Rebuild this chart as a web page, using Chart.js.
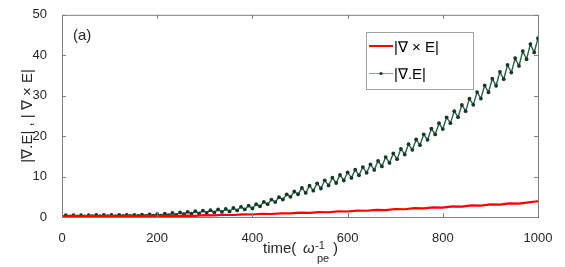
<!DOCTYPE html>
<html>
<head>
<meta charset="utf-8">
<script src="https://cdn.jsdelivr.net/npm/chart.js@4"></script>
<style>
  html, body { margin: 0; padding: 0; background: #fff; }
  #wrap { width: 565px; height: 267px; }
</style>
</head>
<body>
<div id="wrap"><canvas id="c" width="565" height="267"></canvas></div>
<script>
// div E sampled every 8 time units, troughs and peaks alternate
const divTimeStep = 8;
const divValues = [
  0.1, 0.45, 0.15, 0.45, 0.15, 0.45, 0.15, 0.45, 0.2, 0.5,
  0.2, 0.5, 0.2, 0.5, 0.2, 0.5, 0.25, 0.55, 0.25, 0.55,
  0.3, 0.6, 0.3, 0.65, 0.35, 0.7, 0.36, 0.85, 0.45, 1.0,
  0.55, 1.12, 0.7, 1.28, 0.8, 1.42, 0.9, 1.57, 1.03, 1.7,
  1.14, 1.85, 1.25, 2.0, 1.38, 2.22, 1.63, 2.52, 1.87, 2.8,
  2.1, 3.17, 2.64, 3.74, 3.17, 4.3, 3.7, 4.9, 4.33, 5.6,
  4.98, 6.3, 5.63, 7.2, 5.95, 7.75, 6.5, 8.32, 7.05, 9.08,
  7.8, 9.75, 8.41, 10.4, 9.03, 11.05, 9.67, 11.7, 10.3, 12.35,
  10.93, 13.0, 11.65, 13.9, 12.5, 14.83, 13.38, 15.73, 14.3, 16.85,
  15.45, 18.0, 16.6, 19.17, 17.75, 20.45, 19.08, 21.83, 20.41, 23.18,
  21.75, 24.65, 23.2, 26.18, 24.69, 27.7, 26.17, 29.25, 27.73, 30.9,
  29.28, 32.53, 30.85, 34.2, 32.45, 35.9, 34.07, 37.6, 35.71, 39.3,
  37.35, 41.03, 39.01, 42.75, 40.7, 44.2
];

// curl E sampled every 20 time units
const curlTimeStep = 20;
const curlValues = [
  0.0, 0.3, 0.15, 0.3, 0.15, 0.28, 0.15, 0.28, 0.15, 0.28,
  0.18, 0.3, 0.22, 0.36, 0.3, 0.44, 0.4, 0.55, 0.5, 0.66,
  0.62, 0.8, 0.74, 0.92, 0.88, 1.06, 1.02, 1.22, 1.18, 1.4,
  1.36, 1.58, 1.54, 1.78, 1.72, 1.98, 1.92, 2.18, 2.12, 2.4,
  2.34, 2.62, 2.56, 2.86, 2.8, 3.1, 3.04, 3.36, 3.3, 3.62, 3.9
];

const xTicks = [0, 200, 400, 600, 800, 1000];
const yTicks = [0, 10, 20, 30, 40, 50];

const curlLabel = '|\u2207 \u00d7 E|';
const divLabel = '|\u2207.E|';

const toPoints = (vals, step) => vals.map((v, i) => ({ x: i * step, y: v }));

const FONT = '"Liberation Sans", Arial, sans-serif';
const TXT = '#262626';

const decor = {
  id: 'decor',
  afterDatasetsDraw(chart) {
    const { ctx, chartArea: a, scales } = chart;
    ctx.save();
    // box + inward ticks, matlab style
    ctx.strokeStyle = '#7f7f7f';
    ctx.lineWidth = 1;
    ctx.strokeRect(a.left + 0.5, a.top + 0.5, a.right - a.left, a.bottom - a.top);
    ctx.beginPath();
    xTicks.forEach(t => {
      const px = Math.round(scales.x.getPixelForValue(t)) + 0.5;
      ctx.moveTo(px, a.bottom); ctx.lineTo(px, a.bottom - 4);
      ctx.moveTo(px, a.top); ctx.lineTo(px, a.top + 4);
    });
    yTicks.forEach(t => {
      const py = Math.round(scales.y.getPixelForValue(t)) + 0.5;
      ctx.moveTo(a.left, py); ctx.lineTo(a.left + 4, py);
      ctx.moveTo(a.right, py); ctx.lineTo(a.right - 4, py);
    });
    ctx.stroke();

    // panel tag
    ctx.fillStyle = TXT;
    ctx.font = '15px ' + FONT;
    ctx.fillText('(a)', 73, 40);

    // legend
    const lx = 366, ly = 32, lw = 107, lh = 57;
    ctx.fillStyle = '#fff';
    ctx.fillRect(lx, ly, lw, lh);
    ctx.strokeStyle = '#a0a0a0';
    ctx.strokeRect(lx + 0.5, ly + 0.5, lw, lh);
    ctx.strokeStyle = '#ff0000';
    ctx.lineWidth = 2;
    ctx.beginPath(); ctx.moveTo(369, 46); ctx.lineTo(393, 46); ctx.stroke();
    ctx.strokeStyle = '#7fa898';
    ctx.lineWidth = 1;
    ctx.beginPath(); ctx.moveTo(369, 73.5); ctx.lineTo(393, 73.5); ctx.stroke();
    ctx.fillStyle = '#123a26';
    ctx.beginPath(); ctx.arc(381, 73.5, 1.6, 0, Math.PI * 2); ctx.fill();
    ctx.fillStyle = '#000';
    ctx.font = '15px ' + FONT;
    ctx.fillText(chart.data.datasets[0].label, 394, 52);
    ctx.fillText(chart.data.datasets[1].label, 394, 79);

    // x title: time( w_pe^-1 )
    ctx.fillStyle = TXT;
    ctx.font = '15px ' + FONT;
    ctx.fillText('time(', 263, 253);
    ctx.font = 'italic 15px ' + FONT;
    ctx.fillText('\u03c9', 303, 253);
    ctx.font = '11px ' + FONT;
    ctx.fillText('-1', 315, 249);
    ctx.fillText('pe', 317, 262);
    ctx.font = '15px ' + FONT;
    ctx.fillText(')', 333, 253);

    // y title
    ctx.translate(32, (a.top + a.bottom) / 2);
    ctx.rotate(-Math.PI / 2);
    ctx.textAlign = 'center';
    ctx.fillText(divLabel + ' , | \u2207 \u00d7 E|', 0, 0);
    ctx.restore();
  }
};

new Chart(document.getElementById('c'), {
  type: 'line',
  data: {
    datasets: [
      {
        label: curlLabel,
        data: toPoints(curlValues, curlTimeStep),
        borderColor: '#ff0000',
        borderWidth: 2.2,
        pointRadius: 0,
        tension: 0
      },
      {
        label: divLabel,
        data: toPoints(divValues, divTimeStep),
        borderColor: '#2e5e4a',
        borderWidth: 1.4,
        pointRadius: 1.9,
        pointBackgroundColor: '#123a26',
        pointBorderColor: '#123a26',
        pointBorderWidth: 0,
        tension: 0
      }
    ]
  },
  options: {
    responsive: false,
    animation: false,
    layout: { padding: { top: 12, right: 27, left: 0, bottom: 0 } },
    plugins: { legend: { display: false }, tooltip: { enabled: false } },
    scales: {
      x: {
        type: 'linear',
        min: 0, max: 1000,
        afterBuildTicks: s => { s.ticks = xTicks.map(v => ({ value: v })); },
        afterFit: s => { s.height = 50; },
        grid: { display: false },
        border: { display: false },
        ticks: {
          color: TXT, font: { family: FONT, size: 13 }, padding: 6, maxRotation: 0,
          callback: v => String(v)
        }
      },
      y: {
        min: 0, max: 50,
        afterBuildTicks: s => { s.ticks = yTicks.map(v => ({ value: v })); },
        afterFit: s => { s.width = 62; },
        grid: { display: false },
        border: { display: false },
        ticks: { color: TXT, font: { family: FONT, size: 13 }, padding: 7 }
      }
    }
  },
  plugins: [decor]
});
</script>
</body>
</html>
